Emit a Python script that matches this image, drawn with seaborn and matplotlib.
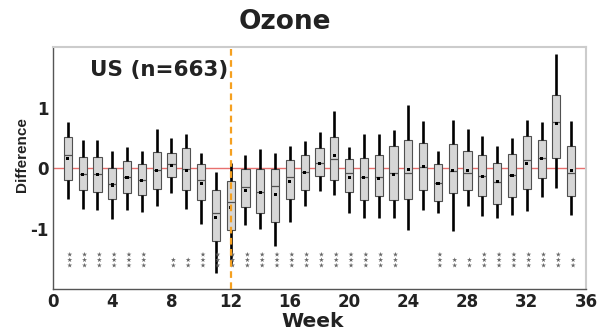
import numpy as np
import pandas as pd
import matplotlib
matplotlib.use("Agg")
import matplotlib.pyplot as plt
from matplotlib.ticker import MultipleLocator, FuncFormatter
import seaborn as sns

weeks = list(range(1, 36))
whisker_low = [-0.52, -0.68, -0.70, -0.84, -0.70, -0.72, -0.62, -0.41, -0.68, -0.92,
               -1.74, -1.58, -0.95, -1.00, -1.29, -0.89, -0.62, -0.38, -0.44, -0.75,
               -0.82, -0.82, -0.82, -1.03, -0.70, -0.75, -1.04, -0.62, -0.79, -0.83,
               -0.78, -0.71, -0.48, -0.33, -0.77]
q1 = [-0.20, -0.37, -0.39, -0.52, -0.41, -0.44, -0.34, -0.15, -0.36, -0.53,
      -1.20, -1.02, -0.64, -0.74, -0.89, -0.52, -0.36, -0.14, -0.19, -0.40,
      -0.53, -0.47, -0.53, -0.51, -0.36, -0.55, -0.42, -0.37, -0.47, -0.59,
      -0.48, -0.34, -0.17, 0.17, -0.47]
median = [0.21, -0.10, -0.10, -0.26, -0.15, -0.19, -0.04, 0.06, -0.01, -0.19,
          -0.75, -0.57, -0.31, -0.40, -0.29, -0.15, -0.06, 0.09, 0.15, -0.09,
          -0.15, -0.15, -0.09, -0.08, 0.01, -0.25, -0.05, -0.09, -0.14, -0.23,
          -0.12, 0.14, 0.17, 0.76, -0.09]
q3 = [0.51, 0.18, 0.18, 0.00, 0.12, 0.06, 0.26, 0.24, 0.33, 0.06,
      -0.36, -0.21, -0.01, -0.01, -0.01, 0.13, 0.22, 0.33, 0.51, 0.15,
      0.17, 0.21, 0.37, 0.47, 0.41, 0.06, 0.39, 0.28, 0.22, 0.09,
      0.23, 0.53, 0.47, 1.21, 0.36]
whisker_high = [0.76, 0.47, 0.47, 0.28, 0.35, 0.28, 0.64, 0.50, 0.57, 0.25,
                -0.07, 0.08, 0.21, 0.32, 0.24, 0.36, 0.45, 0.60, 0.94, 0.35,
                0.56, 0.56, 0.62, 1.04, 0.78, 0.28, 0.80, 0.64, 0.53, 0.37,
                0.50, 0.80, 0.76, 1.88, 0.78]
mean = [0.15, -0.10, -0.10, -0.28, -0.15, -0.20, -0.04, 0.04, -0.04, -0.26,
        -0.82, -0.66, -0.37, -0.40, -0.44, -0.22, -0.08, 0.08, 0.20, -0.15,
        -0.16, -0.17, -0.10, -0.03, 0.02, -0.25, -0.04, -0.04, -0.14, -0.23,
        -0.12, 0.08, 0.15, 0.73, -0.04]
n_stars = [3, 3, 3, 3, 3, 3, 0, 2, 2, 3, 3, 3, 3, 3, 3, 3, 3, 3, 3, 3,
           3, 3, 3, 0, 0, 3, 2, 2, 3, 3, 3, 3, 3, 3, 2]
star_rows = [-1.61, -1.52, -1.43]
x_ticks = [0, 4, 8, 12, 16, 20, 24, 28, 32, 36]
y_ticks = [-1, 0, 1]
title = "Ozone"
label = "US (n=663)"
event_week = 12

sns.set_theme(style="white")
plt.rcParams['font.family'] = ['DejaVu Sans']
plt.rcParams['font.weight'] = 'bold'

# long table: five summary values per week so the box spans exactly them
rows = []
for w, a, b, c, d, e in zip(weeks, whisker_low, q1, median, q3, whisker_high):
    for v in (a, b, c, d, e):
        rows.append({"week": w, "value": v})
df = pd.DataFrame(rows)
mean_df = pd.DataFrame({"week": weeks, "mean": mean})

star_x, star_y = [], []
for w, n in zip(weeks, n_stars):
    for k in range(n):
        star_x.append(w)
        star_y.append(star_rows[k])
star_df = pd.DataFrame({"week": star_x, "y": star_y})

fig = plt.figure(figsize=(5.97, 3.32), dpi=100)
ax = fig.add_axes([0.0888, 0.1295, 0.8928, 0.7289])

ax.axhline(0, color="#e8706e", lw=1.0, zorder=0.5)

sns.boxplot(data=df, x="week", y="value", native_scale=True, width=0.55,
            whis=(0, 100), showfliers=False, showcaps=False, ax=ax,
            boxprops=dict(facecolor="#d6d6d6", edgecolor="#505050", linewidth=0.8),
            whiskerprops=dict(color="black", linewidth=1.9),
            medianprops=dict(color="#505050", linewidth=0.9),
            capprops=dict(linewidth=0))

sns.scatterplot(data=mean_df, x="week", y="mean", marker="s", s=5,
                color="black", edgecolor="none", ax=ax, zorder=5)

star_df["xs"] = star_df["week"] + 0.13
sns.scatterplot(data=star_df, x="xs", y="y", marker="*", s=14,
                color="#666666", edgecolor="none", ax=ax, zorder=4)

ax.axvline(event_week, color="#f5a020", lw=1.6, ls=(0, (3, 2)), zorder=6)

ax.set_xlim(0, 36)
ax.set_ylim(-2, 2)
ax.xaxis.set_major_locator(MultipleLocator(2))
ax.xaxis.set_minor_locator(MultipleLocator(1))
ax.xaxis.set_major_formatter(FuncFormatter(lambda v, p: f"{int(round(v))}" if int(round(v)) in x_ticks else ""))
ax.set_yticks(y_ticks)
ax.set_yticklabels([str(t) for t in y_ticks])
ax.yaxis.set_minor_locator(MultipleLocator(0.5))

ax.tick_params(axis="both", which="both", direction="in", colors="#444444",
               labelcolor="#222222", labelsize=12)
ax.tick_params(axis="x", which="major", length=5, width=1.2, pad=3)
ax.tick_params(axis="x", which="minor", length=2.5, width=0.8)
ax.tick_params(axis="y", which="major", length=4, width=1.0, pad=3)
ax.tick_params(axis="y", which="minor", length=2.5, width=0.8)
for t in ax.get_xticklabels() + ax.get_yticklabels():
    t.set_fontweight("bold")
    t.set_family("DejaVu Sans")

for s in ("left", "bottom"):
    ax.spines[s].set_color("#555555")
    ax.spines[s].set_linewidth(1.0)
for s in ("top", "right"):
    ax.spines[s].set_color("#cccccc")
    ax.spines[s].set_linewidth(1.5)

ax.set_xlabel("Week", fontsize=14.5, fontweight="bold", color="#222222",
              family="DejaVu Sans")
ax.xaxis.set_label_coords(0.487, -0.094)
ax.set_ylabel("Difference", fontsize=11, fontweight="bold", color="#222222",
              family=["Liberation Sans Narrow", "Liberation Sans"])
ax.yaxis.set_label_coords(-0.045, 0.554)

ax.text(11.84, 1.515, label, ha="right", va="baseline", fontsize=15.5,
        fontweight="bold", color="#222222", family="DejaVu Sans")
fig.text(0.4774, 0.9127, title, ha="center", va="baseline", fontsize=19,
         fontweight="bold", color="#222222", family="DejaVu Sans")

fig.savefig("out.png", dpi=100)
